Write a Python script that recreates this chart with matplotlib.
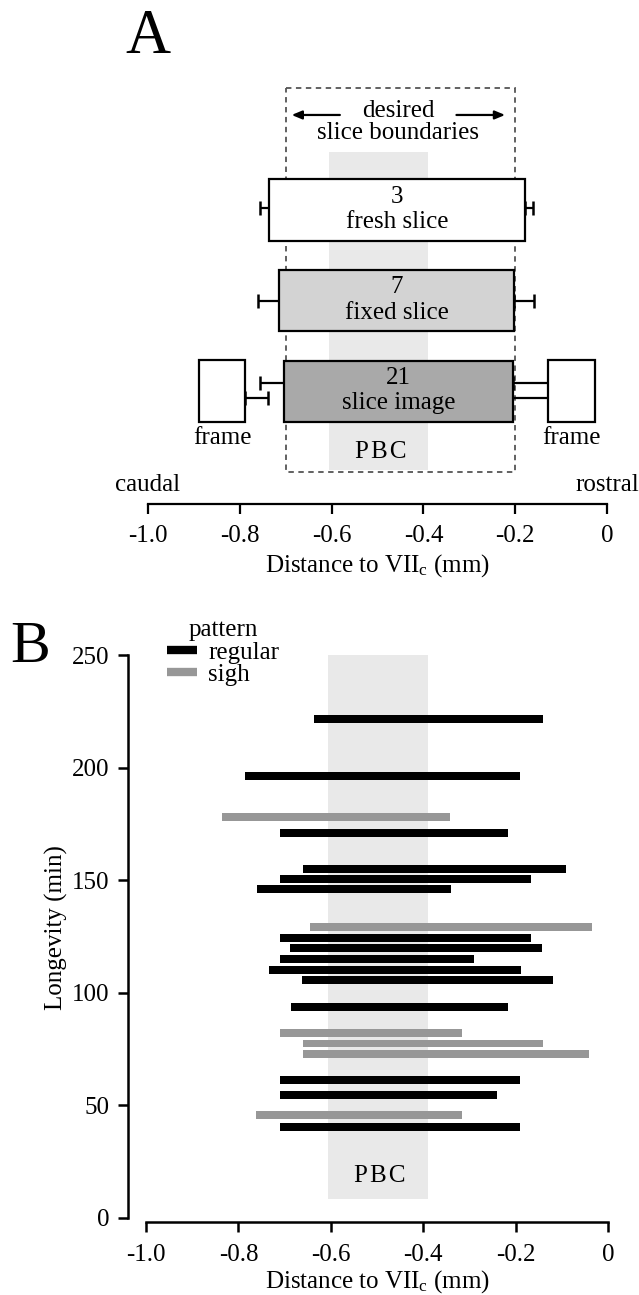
import matplotlib
matplotlib.use("Agg")
import matplotlib.pyplot as plt
import numpy as np
from matplotlib.lines import Line2D
from matplotlib.patches import Rectangle

plt.rcParams['font.family'] = ['Liberation Serif', 'DejaVu Serif']
plt.rcParams['mathtext.fontset'] = 'custom'
plt.rcParams['mathtext.rm'] = 'Liberation Serif'
plt.rcParams['mathtext.it'] = 'Liberation Serif:italic'

# ---------------- Panel A data ----------------
prep_labels = ["fresh slice", "fixed slice", "slice image"]
prep_n = ["3", "7", "21"]
caudal_mean = [-0.736, -0.714, -0.704]
caudal_sd = [0.019, 0.046, 0.051]
rostral_mean = [-0.179, -0.202, -0.205]
rostral_sd = [0.017, 0.043, 0.090]
prep_fill = ["white", "#d3d3d3", "#a9a9a9"]

frame_caudal = [-0.889, -0.788]   # caudal frame extent
frame_caudal_sd = 0.050
frame_rostral = [-0.129, -0.026]  # rostral frame extent
frame_rostral_sd = 0.088

desired = [-0.70, -0.20]
pbc = [-0.605, -0.390]
xticks = [-1.0, -0.8, -0.6, -0.4, -0.2, 0.0]
xticklabels = ["-1.0", "-0.8", "-0.6", "-0.4", "-0.2", "0"]

# ---------------- Panel B data ----------------
b_left = [-0.636, -0.786, -0.836, -0.711, -0.661, -0.711, -0.760, -0.645,
          -0.711, -0.688, -0.711, -0.734, -0.663, -0.686, -0.709, -0.661,
          -0.661, -0.711, -0.711, -0.761, -0.711]
b_right = [-0.141, -0.191, -0.342, -0.217, -0.091, -0.166, -0.339, -0.035,
           -0.166, -0.143, -0.291, -0.188, -0.118, -0.217, -0.315, -0.141,
           -0.041, -0.191, -0.241, -0.317, -0.191]
b_longevity = [221.6, 196.2, 178.2, 170.8, 155.0, 150.6, 146.0, 129.4,
               124.5, 119.8, 114.9, 110.0, 105.6, 93.6, 82.1, 77.5,
               72.9, 61.4, 54.8, 45.7, 40.6]
b_pattern = ["regular", "regular", "sigh", "regular", "regular", "regular",
             "regular", "sigh", "regular", "regular", "regular", "regular",
             "regular", "regular", "sigh", "sigh", "sigh", "regular",
             "regular", "sigh", "regular"]
pattern_colors = {"regular": "black", "sigh": "#979797"}
yticks_b = [0, 50, 100, 150, 200, 250]

W, H = 639, 1295
fig = plt.figure(figsize=(W / 100, H / 100), dpi=100)

def axrect(l, t, r, b):
    return [l / W, 1 - b / H, (r - l) / W, (b - t) / H]

FS = 18
PBC_TXT = "P\u200aB\u200aC"

# ================= Panel A =================
axA = fig.add_axes(axrect(148, 80, 607, 504))
axA.set_xlim(-1.0, 0.0)
axA.set_ylim(3.245, -1.435)
rows = np.arange(len(prep_labels))
bh = 0.677

# PBC shading
axA.add_patch(Rectangle((pbc[0], -0.644), pbc[1] - pbc[0], 2.87 + 0.644,
                        facecolor="#e9e9e9", edgecolor="none", zorder=0))
# desired boundary box
axA.add_patch(Rectangle((desired[0], -1.343), desired[1] - desired[0], 2.897 + 1.343,
                        facecolor="none", edgecolor="#555555", lw=1.3,
                        linestyle=(0, (3, 2.5)), zorder=1))

err_off = [-0.02, 0.0, -0.087]
cm = np.array(caudal_mean); rm = np.array(rostral_mean)
ekw = dict(fmt='none', ecolor='black', elinewidth=1.6, capsize=4.7, capthick=1.8, zorder=2)
axA.errorbar(cm, rows + np.array(err_off), xerr=[caudal_sd, np.zeros(3)], **ekw)
axA.errorbar(rm, rows + np.array(err_off), xerr=[np.zeros(3), rostral_sd], **ekw)
axA.barh(rows, rm - cm, left=cm, height=bh, color=prep_fill,
         edgecolor='black', linewidth=1.6, zorder=3)
for r, n, lab, l, rr in zip(rows, prep_n, prep_labels, cm, rm):
    xc = (l + rr) / 2
    axA.text(xc, r - 0.145, n, ha='center', va='center', fontsize=FS, zorder=4)
    axA.text(xc, r + 0.135, lab, ha='center', va='center', fontsize=FS, zorder=4)

# frames
axA.errorbar([frame_caudal[1]], [2.07], xerr=[[0], [frame_caudal_sd]], **ekw)
axA.errorbar([frame_rostral[0]], [2.07], xerr=[[frame_rostral_sd], [0]], **ekw)
axA.barh([2, 2], [frame_caudal[1] - frame_caudal[0], frame_rostral[1] - frame_rostral[0]],
         left=[frame_caudal[0], frame_rostral[0]], height=bh + 0.01, color='white',
         edgecolor='black', linewidth=1.6, zorder=3)
axA.text(np.mean(frame_caudal), 2.52, "frame", ha='center', va='center', fontsize=FS)
axA.text(np.mean(frame_rostral), 2.52, "frame", ha='center', va='center', fontsize=FS)

# desired boundaries text + arrows
axA.text(-0.455, -1.093, "desired", ha='center', va='center', fontsize=FS)
axA.text(-0.455, -0.847, "slice boundaries", ha='center', va='center', fontsize=FS)
akw = dict(arrowstyle='-|>,head_length=0.6,head_width=0.25', color='black', lw=1.6,
           shrinkA=0, shrinkB=0)
axA.annotate("", xy=(-0.687, -1.049), xytext=(-0.582, -1.049), arrowprops=akw)
axA.annotate("", xy=(-0.222, -1.049), xytext=(-0.328, -1.049), arrowprops=akw)

axA.text(np.mean(pbc) + 0.005, 2.668, PBC_TXT, ha='center', va='center', fontsize=FS)
axA.text(-1.0, 3.03, "caudal", ha='center', va='center', fontsize=FS)
axA.text(0.0, 3.03, "rostral", ha='center', va='center', fontsize=FS)

for s in ['top', 'right', 'left']:
    axA.spines[s].set_visible(False)
axA.spines['bottom'].set_linewidth(1.6)
axA.set_yticks([])
axA.set_xticks(xticks)
axA.set_xticklabels(xticklabels)
axA.tick_params(axis='x', direction='out', length=7, width=1.6, labelsize=FS, pad=8)
axA.set_xlabel(r"Distance to VII$_{\rm c}$ (mm)", fontsize=FS, labelpad=4)

fig.text(125 / W, 1 - 53 / H, "A", fontsize=45, ha='left', va='baseline')

# ================= Panel B =================
axB = fig.add_axes(axrect(146, 655, 608, 1218))
axB.set_xlim(-1.0, 0.0)
axB.set_ylim(0, 250)
axB.add_patch(Rectangle((pbc[0], 8.4), pbc[1] - pbc[0], 250 - 8.4,
                        facecolor="#e9e9e9", edgecolor="none", zorder=0))
bl = np.array(b_left); br = np.array(b_right)
axB.barh(b_longevity, br - bl, left=bl, height=3.5,
         color=[pattern_colors[p] for p in b_pattern], edgecolor='none', zorder=2)
axB.text(np.mean(pbc) + 0.003, 18.5, PBC_TXT, ha='center', va='center', fontsize=FS)

for s in ['top', 'right']:
    axB.spines[s].set_visible(False)
axB.spines['left'].set_position(('outward', 13))
axB.spines['bottom'].set_position(('outward', 3))
axB.spines['left'].set_bounds(0, 250)
axB.spines['bottom'].set_bounds(-1.0, 0.0)
for s in ['left', 'bottom']:
    axB.spines[s].set_linewidth(1.8)
axB.set_xticks(xticks)
axB.set_xticklabels(xticklabels)
axB.set_yticks(yticks_b)
axB.tick_params(direction='out', length=7.5, width=1.8, labelsize=FS, pad=6)
axB.tick_params(axis='x', pad=8)
axB.set_xlabel(r"Distance to VII$_{\rm c}$ (mm)", fontsize=FS, labelpad=1.5)
axB.set_ylabel("Longevity (min)", fontsize=FS)
axB.yaxis.set_label_coords(-0.169, 0.515)

handles = [Line2D([], [], color=pattern_colors[k], lw=6, solid_capstyle='butt')
           for k in ["regular", "sigh"]]
leg = axB.legend(handles, ["regular", "sigh"], title="pattern", loc='upper left',
                 bbox_to_anchor=(167 / W, 1 - 619 / H), bbox_transform=fig.transFigure,
                 frameon=False, fontsize=FS, title_fontsize=FS, handlelength=1.2,
                 handletextpad=0.45, labelspacing=0.0, borderpad=0, borderaxespad=0)

fig.text(10 / W, 1 - 662 / H, "B", fontsize=43, ha='left', va='baseline')

fig.savefig("out.png", dpi=100)
